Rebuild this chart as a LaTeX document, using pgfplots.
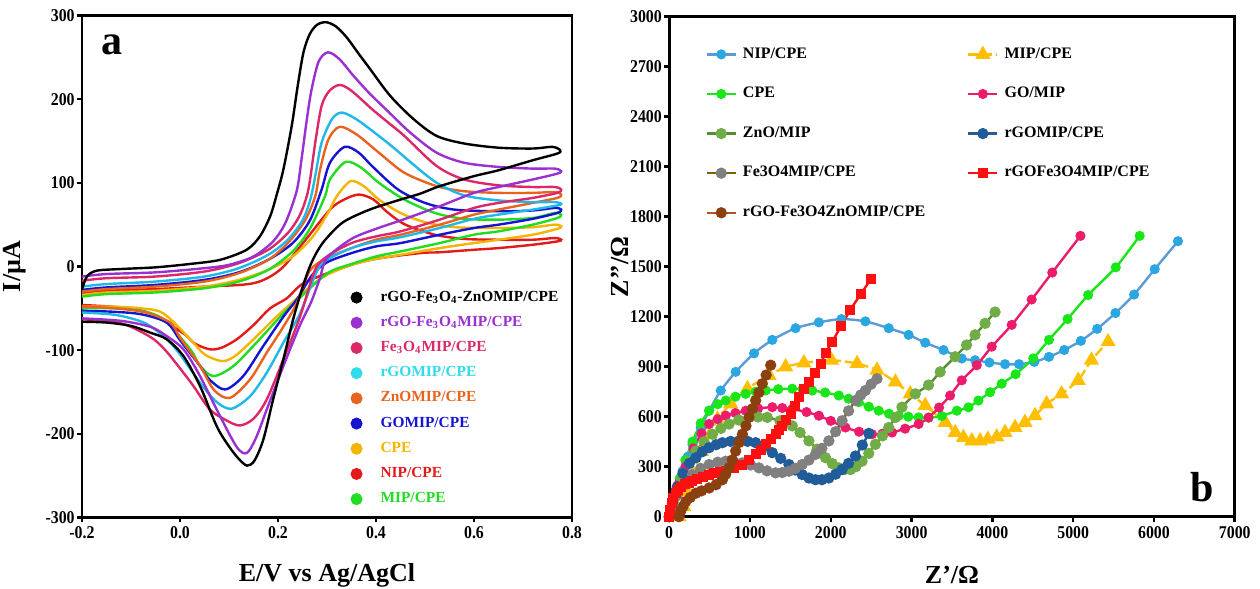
\documentclass[border=0pt]{standalone}
\usepackage{fontspec}
\setmainfont{Liberation Serif}
\newfontfamily\tickfont[FakeStretch=0.88]{Liberation Serif}
\usepackage{pgfplots}
\pgfplotsset{compat=1.18}
\definecolor{cvpurple}{HTML}{9B30D0}
\definecolor{cvcrimson}{HTML}{DC2868}
\definecolor{cvcyan}{HTML}{20B8E8}
\definecolor{cvorange}{HTML}{E8641E}
\definecolor{cvblue}{HTML}{1414D2}
\definecolor{cvyellow}{HTML}{F5B400}
\definecolor{cvred}{HTML}{E21A1A}
\definecolor{cvgreen}{HTML}{22DC22}
\definecolor{txcyan}{HTML}{30DCEC}
\definecolor{nipline}{HTML}{5B9BD5}
\definecolor{nipmark}{HTML}{2AA7E0}
\definecolor{mipc}{HTML}{FFBF00}
\definecolor{cpec}{HTML}{19E619}
\definecolor{gomipc}{HTML}{EC1C6C}
\definecolor{znoline}{HTML}{5B8A3A}
\definecolor{znomark}{HTML}{70AD47}
\definecolor{rgoline}{HTML}{2C5A8C}
\definecolor{rgomark}{HTML}{1F5C99}
\definecolor{feline}{HTML}{7F6000}
\definecolor{femark}{HTML}{808080}
\definecolor{rgofec}{HTML}{FF1010}
\definecolor{brline}{HTML}{B0561E}
\definecolor{brmark}{HTML}{8B4010}
\pgfplotsset{
  myax/.style={scale only axis, anchor=south west,
    axis line style={line width=1.4pt}, tick align=outside, major tick length=2.5pt,
    every tick/.style={black, line width=1.3pt}, xtick pos=left, ytick pos=left,
    tick label style={font=\tickfont\bfseries\fontsize{9}{10}\selectfont},
    yticklabel style={inner sep=1pt}, xticklabel style={inner sep=2pt},
    label style={font=\bfseries\fontsize{13}{14}\selectfont},
    /pgf/number format/assume math mode=true,
    /pgf/number format/set thousands separator={}},
  cv/.style={smooth, tension=0.5, line width=1.2pt, forget plot},
  ny/.style={smooth, tension=0.4, line width=1.2pt, mark size=1.9pt},
}
\begin{document}
\begin{tikzpicture}
\useasboundingbox (0pt,0pt) rectangle (630pt,294.5pt);
% ---------------- panel a ----------------
\begin{axis}[myax, at={(41pt,35.75pt)}, width=245pt, height=251pt,
  xmin=-0.2, xmax=0.8, ymin=-300, ymax=300,
  xtick={-0.2,0,0.2,0.4,0.6,0.8}, xticklabels={-0.2,0.0,0.2,0.4,0.6,0.8},
  ytick={-300,-200,-100,0,100,200,300}, yticklabels={-300,-200,-100,0,100,200,300},
  xlabel={E/V vs Ag/AgCl}, ylabel={I/µA},
  xlabel style={at={(axis description cs:0.5,-0.115)}, anchor=center},
  ylabel style={at={(axis description cs:-0.137,0.5)}, anchor=center},
  legend cell align=left,
  legend image code/.code={\fill[#1] (3pt,0pt) circle (2.8pt);},
  legend style={at={(rel axis cs:0.535,0.468)}, anchor=north west, draw=none, fill=none,
    font=\bfseries\fontsize{7.7}{8}\selectfont, row sep=2pt, column sep=7pt},
]
\addplot[cv, cvred] coordinates {(-0.2,-32) (-0.15,-29) (-0.05,-27) (0.05,-24) (0.15,-20) (0.204,-4) (0.251,28) (0.306,68) (0.335,80) (0.365,86) (0.395,80) (0.423,65) (0.46,50) (0.52,38) (0.58,33) (0.65,32) (0.72,32) (0.765,34) (0.778,32)
 (0.77,30) (0.72,26) (0.65,22) (0.6,20) (0.53,17) (0.49,16) (0.388,8) (0.32,-4) (0.252,-20) (0.218,-38) (0.184,-50) (0.15,-70) (0.116,-87) (0.085,-97) (0.061,-99) (0.03,-92) (0.007,-80) (-0.061,-56) (-0.12,-49) (-0.2,-46)};
\addplot[cv, cvyellow] coordinates {(-0.2,-34) (-0.15,-31) (-0.05,-29) (0.05,-24) (0.12,-16) (0.18,-4) (0.23,12) (0.27,35) (0.3,62) (0.32,84) (0.348,102) (0.375,96) (0.406,80) (0.45,64) (0.5,53) (0.56,47) (0.65,46) (0.72,47) (0.765,50) (0.778,48)
 (0.77,45) (0.72,38) (0.65,32) (0.6,28) (0.53,22) (0.45,14) (0.4,9) (0.35,2) (0.3,-10) (0.27,-22) (0.235,-40) (0.197,-60) (0.143,-91) (0.11,-108) (0.085,-113) (0.05,-105) (0.021,-87) (-0.034,-56) (-0.08,-50) (-0.14,-48) (-0.2,-48)};
\addplot[cv, cvgreen] coordinates {(-0.2,-36) (-0.15,-33) (-0.05,-31) (0.05,-26) (0.12,-18) (0.18,-4) (0.23,18) (0.265,45) (0.296,84) (0.306,104) (0.338,125) (0.37,118) (0.406,100) (0.458,80) (0.52,64) (0.58,57) (0.65,56) (0.72,58) (0.765,64) (0.778,62)
 (0.77,58) (0.72,50) (0.65,42) (0.6,38) (0.53,28) (0.45,18) (0.4,12) (0.35,3) (0.31,-5) (0.28,-18) (0.24,-40) (0.211,-56) (0.156,-91) (0.109,-119) (0.068,-131) (0.04,-118) (0.021,-99) (-0.034,-63) (-0.08,-53) (-0.14,-50) (-0.2,-50)};
\addplot[cv, cvblue] coordinates {(-0.2,-28) (-0.15,-25) (-0.05,-22) (0.05,-16) (0.12,-7) (0.18,8) (0.23,28) (0.265,55) (0.289,92) (0.306,124) (0.336,143) (0.365,136) (0.392,120) (0.445,92) (0.5,76) (0.56,68) (0.65,66) (0.72,67) (0.765,70) (0.778,68)
 (0.77,64) (0.72,57) (0.65,50) (0.6,46) (0.53,38) (0.45,28) (0.4,24) (0.35,16) (0.3,5) (0.27,-10) (0.24,-38) (0.211,-60) (0.17,-95) (0.129,-131) (0.092,-147) (0.06,-135) (0.041,-119) (0.0,-88) (-0.027,-67) (-0.08,-57) (-0.14,-54) (-0.2,-53)};
\addplot[cv, cvorange] coordinates {(-0.2,-30) (-0.15,-27) (-0.05,-24) (0.05,-18) (0.12,-8) (0.18,8) (0.22,28) (0.255,55) (0.276,84) (0.286,116) (0.303,152) (0.326,167) (0.36,158) (0.406,136) (0.458,112) (0.524,96) (0.58,90) (0.65,88) (0.72,88) (0.765,89) (0.778,86)
 (0.77,82) (0.72,76) (0.65,68) (0.6,62) (0.53,50) (0.45,38) (0.4,32) (0.35,22) (0.3,10) (0.265,-5) (0.238,-44) (0.211,-72) (0.177,-103) (0.143,-135) (0.102,-157) (0.07,-148) (0.041,-119) (0.0,-85) (-0.02,-67) (-0.07,-55) (-0.13,-50) (-0.2,-48)};
\addplot[cv, cvcyan] coordinates {(-0.2,-24) (-0.15,-21) (-0.05,-18) (0.05,-12) (0.12,-2) (0.18,14) (0.22,32) (0.25,55) (0.266,80) (0.276,108) (0.289,148) (0.31,176) (0.33,184) (0.36,176) (0.406,156) (0.44,140) (0.472,124) (0.524,100) (0.58,85) (0.65,79) (0.72,77) (0.765,77) (0.778,75)
 (0.77,73) (0.72,68) (0.65,62) (0.6,57) (0.53,46) (0.45,35) (0.4,30) (0.35,22) (0.3,8) (0.28,-5) (0.245,-56) (0.211,-91) (0.177,-127) (0.143,-155) (0.105,-170) (0.075,-162) (0.041,-139) (0.0,-105) (-0.027,-87) (-0.07,-68) (-0.13,-58) (-0.2,-55)};
\addplot[cv, cvcrimson] coordinates {(-0.2,-17) (-0.15,-14) (-0.05,-12) (0.05,-6) (0.12,4) (0.18,20) (0.22,40) (0.245,62) (0.262,92) (0.276,148) (0.289,192) (0.305,210) (0.326,217) (0.35,210) (0.392,188) (0.425,172) (0.458,156) (0.524,120) (0.58,104) (0.65,97) (0.72,95) (0.765,95) (0.778,92)
 (0.77,88) (0.72,82) (0.65,76) (0.6,70) (0.53,56) (0.45,42) (0.4,36) (0.35,28) (0.3,12) (0.275,-5) (0.245,-60) (0.211,-111) (0.177,-159) (0.15,-182) (0.122,-190) (0.095,-184) (0.061,-171) (0.03,-145) (0.007,-127) (-0.03,-100) (-0.061,-84) (-0.12,-68) (-0.2,-63)};
\addplot[cv, cvpurple] coordinates {(-0.2,-12) (-0.15,-9) (-0.05,-7) (0.05,-2) (0.1,2) (0.15,12) (0.19,30) (0.215,52) (0.238,90) (0.248,128) (0.258,172) (0.268,210) (0.283,245) (0.302,256) (0.325,248) (0.354,228) (0.385,208) (0.42,188) (0.47,160) (0.524,136) (0.58,124) (0.65,119) (0.72,117) (0.765,117) (0.778,114)
 (0.77,111) (0.72,104) (0.65,95) (0.6,88) (0.53,72) (0.45,55) (0.4,45) (0.35,33) (0.3,10) (0.285,-15) (0.268,-42) (0.245,-70) (0.211,-119) (0.177,-171) (0.155,-205) (0.136,-223) (0.115,-215) (0.075,-171) (0.04,-130) (0.007,-99) (-0.03,-82) (-0.061,-72) (-0.12,-65) (-0.2,-62)};
\addplot[cv, black] coordinates {(-0.2,-28) (-0.19,-12) (-0.17,-5) (-0.12,-3) (-0.05,-1) (0.02,3) (0.082,8) (0.136,20) (0.163,36) (0.184,60) (0.197,85) (0.211,116) (0.228,168) (0.24,215) (0.252,256) (0.265,278) (0.28,289) (0.298,292) (0.318,287) (0.34,274) (0.365,254) (0.388,236) (0.429,204) (0.477,176) (0.524,156) (0.58,147) (0.65,142) (0.72,141) (0.76,143) (0.776,139)
 (0.77,135) (0.72,127) (0.65,115) (0.6,108) (0.53,96) (0.49,87) (0.45,80) (0.387,68) (0.333,53) (0.298,33) (0.28,18) (0.265,0) (0.25,-25) (0.231,-63) (0.211,-111) (0.19,-159) (0.17,-207) (0.152,-232) (0.137,-238) (0.12,-230) (0.1,-215) (0.075,-191) (0.041,-143) (0.007,-107) (-0.027,-87) (-0.061,-79) (-0.1,-71) (-0.15,-67) (-0.2,-66)};
\addlegendimage{black}\addlegendentry{\textcolor{black}{rGO-Fe\textsubscript{3}O\textsubscript{4}-ZnOMIP/CPE}}
\addlegendimage{cvpurple}\addlegendentry{\textcolor{cvpurple}{rGO-Fe\textsubscript{3}O\textsubscript{4}MIP/CPE}}
\addlegendimage{cvcrimson}\addlegendentry{\textcolor{cvcrimson}{Fe\textsubscript{3}O\textsubscript{4}MIP/CPE}}
\addlegendimage{txcyan}\addlegendentry{\textcolor{txcyan}{rGOMIP/CPE}}
\addlegendimage{cvorange}\addlegendentry{\textcolor{cvorange}{ZnOMIP/CPE}}
\addlegendimage{cvblue}\addlegendentry{\textcolor{cvblue}{GOMIP/CPE}}
\addlegendimage{cvyellow}\addlegendentry{\textcolor{cvyellow}{CPE}}
\addlegendimage{cvred}\addlegendentry{\textcolor{cvred}{NIP/CPE}}
\addlegendimage{cvgreen}\addlegendentry{\textcolor{cvgreen}{MIP/CPE}}
\node[font=\bfseries\fontsize{21}{21}\selectfont] at (rel axis cs:0.061,0.941) {a};
\end{axis}
% ---------------- panel b ----------------
\begin{axis}[myax, at={(334.6pt,36.15pt)}, width=282.8pt, height=250pt,
  xmin=0, xmax=7000, ymin=0, ymax=3000,
  xtick={0,1000,...,7000}, ytick={0,300,...,3000}, scaled ticks=false,
  xlabel={Z’/Ω}, ylabel={Z’’/Ω},
  xlabel style={at={(axis description cs:0.5,-0.1166)}, anchor=center},
  ylabel style={at={(axis description cs:-0.087,0.5)}, anchor=center},
  legend columns=2, legend cell align=left,
  legend image code/.code={\draw[mark repeat=2,mark phase=2,#1] plot coordinates {(0pt,0pt) (7.25pt,0pt) (14.5pt,0pt)};},
  legend style={at={(rel axis cs:0.053,0.955)}, anchor=north west, draw=none, fill=none,
    font=\bfseries\fontsize{8}{8}\selectfont, row sep=9pt, column sep=1pt,
    /tikz/every even column/.append style={column sep=19pt}},
]
\addplot[ny, nipline, mark=*, mark options={fill=nipmark, draw=nipmark}] coordinates {(0,0) (40,70) (90,170) (165,273) (230,360) (288,434) (391,535) (494,636) (638,757) (823,869) (1050,980) (1276,1061) (1564,1131) (1852,1166) (2132,1186) (2428,1172) (2717,1131) (2963,1091) (3169,1044) (3395,1000) (3621,949) (3786,939) (3963,925) (4156,915) (4329,915) (4519,929) (4700,959) (4889,1000) (5095,1055) (5297,1127) (5523,1222) (5754,1333) (6009,1485) (6297,1653)};
\addlegendentry{NIP/CPE}
\addplot[ny, mipc, dash pattern=on 5pt off 2pt, mark=triangle*, mark size=3.2pt, mark options={solid, fill=mipc, draw=mipc}] coordinates {(120,0) (180,60) (230,150) (300,260) (400,390) (500,490) (597,586) (762,677) (968,768) (1235,848) (1441,899) (1667,923) (2009,939) (2325,919) (2572,879) (2799,808) (2984,737) (3169,667) (3416,566) (3539,505) (3642,475) (3745,455) (3848,455) (3943,465) (4054,479) (4156,505) (4280,535) (4403,566) (4527,606) (4671,677) (4856,737) (5062,818) (5226,939) (5432,1050)};
\addlegendentry{MIP/CPE}
\addplot[ny, cpec, mark=*, mark options={fill=cpec, draw=cpec}] coordinates {(0,0) (60,110) (130,230) (200,340) (288,450) (390,560) (494,636) (600,675) (700,697) (820,720) (947,737) (1070,750) (1194,757) (1350,765) (1523,768) (1650,765) (1770,757) (1930,745) (2099,727) (2220,708) (2346,687) (2470,660) (2593,636) (2720,618) (2840,606) (2960,600) (3087,596) (3210,594) (3374,604) (3560,636) (3704,656) (3827,697) (3971,747) (4115,798) (4288,855) (4506,950) (4700,1061) (4930,1186) (5185,1330) (5527,1496) (5823,1685)};
\addlegendentry{CPE}
\addplot[ny, gomipc, mark=*, mark options={fill=gomipc, draw=gomipc}] coordinates {(0,0) (50,90) (120,200) (200,300) (300,410) (400,500) (494,556) (600,585) (700,606) (820,622) (947,636) (1100,650) (1276,657) (1400,652) (1523,646) (1700,628) (1852,606) (2000,575) (2181,535) (2350,510) (2510,495) (2640,498) (2758,505) (2920,528) (3087,556) (3210,595) (3340,655) (3477,727) (3621,818) (3807,909) (3992,1020) (4239,1151) (4486,1303) (4741,1465) (5090,1685)};
\addlegendentry{GO/MIP}
\addplot[ny, znoline, mark=*, mark size=2.2pt, mark options={fill=znomark, draw=znomark}] coordinates {(0,0) (60,100) (150,230) (250,330) (330,394) (430,450) (535,495) (640,530) (741,556) (860,580) (988,596) (1100,598) (1214,596) (1370,575) (1523,545) (1620,505) (1729,455) (1830,405) (1935,354) (2020,318) (2099,293) (2170,283) (2243,283) (2310,300) (2387,333) (2470,380) (2552,434) (2640,485) (2717,535) (2800,595) (2881,657) (3046,737) (3210,790) (3354,869) (3539,960) (3680,1030) (3786,1091) (3910,1160) (4033,1228)};
\addlegendentry{ZnO/MIP}
\addplot[ny, rgoline, mark=*, mark size=2.2pt, mark options={fill=rgomark, draw=rgomark}] coordinates {(0,0) (40,80) (100,180) (170,260) (250,320) (330,354) (410,390) (494,414) (580,432) (659,444) (760,452) (865,455) (970,452) (1070,444) (1170,418) (1276,384) (1380,350) (1482,313) (1560,280) (1646,253) (1730,232) (1811,222) (1890,222) (1976,232) (2060,255) (2140,283) (2220,320) (2305,364) (2390,430) (2470,500)};
\addlegendentry{rGOMIP/CPE}
\addplot[ny, feline, mark=*, mark size=2.2pt, mark options={fill=femark, draw=femark}] coordinates {(0,0) (40,60) (100,130) (180,190) (288,253) (390,290) (494,313) (600,327) (700,333) (800,330) (906,323) (1010,310) (1111,293) (1210,275) (1317,263) (1400,265) (1482,273) (1560,290) (1646,313) (1730,340) (1811,374) (1890,410) (1976,455) (2060,510) (2140,576) (2220,635) (2305,697) (2370,730) (2428,757) (2500,795) (2572,828)};
\addlegendentry{Fe3O4MIP/CPE}
\addplot[ny, rgofec, mark=square*, mark size=1.9pt, mark options={fill=rgofec, draw=rgofec}] coordinates {(0,0) (15,40) (30,80) (50,110) (80,140) (110,160) (150,180) (200,195) (250,205) (288,212) (350,225) (420,240) (494,253) (560,260) (630,267) (700,273) (800,290) (906,313) (990,340) (1070,374) (1130,400) (1194,434) (1260,465) (1317,495) (1360,520) (1400,545) (1450,580) (1502,616) (1560,665) (1605,717) (1670,765) (1729,808) (1800,865) (1873,919) (1940,985) (2017,1050) (2130,1145) (2243,1242) (2370,1335) (2494,1424)};
\addlegendentry{rGOFe3O4MIP/CPE}
\addplot[ny, brline, mark=*, mark size=2.2pt, mark options={fill=brmark, draw=brmark}] coordinates {(120,0) (140,30) (170,60) (206,91) (260,115) (330,141) (400,155) (494,172) (580,192) (659,222) (700,255) (741,293) (780,340) (823,394) (865,445) (906,495) (950,545) (988,596) (1030,648) (1070,697) (1110,745) (1153,798) (1200,850) (1256,909)};
\addlegendentry{rGO-Fe3O4ZnOMIP/CPE}
\node[font=\bfseries\fontsize{21}{21}\selectfont] at (rel axis cs:0.942,0.059) {b};
\end{axis}
\end{tikzpicture}
\end{document}
